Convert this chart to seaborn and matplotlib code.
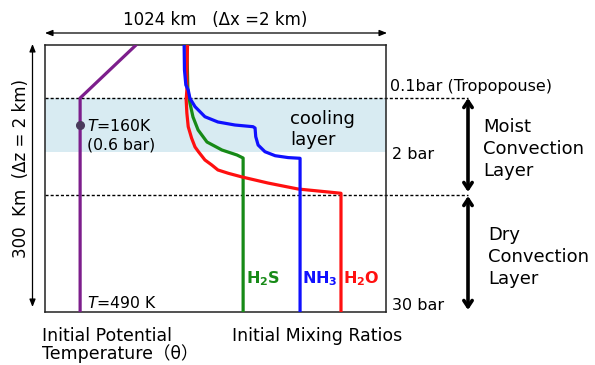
import matplotlib
matplotlib.use("Agg")
import matplotlib.pyplot as plt
import seaborn as sns
import pandas as pd

# --- profile data: x in relative profile units (0-100 across the domain box), z = altitude in km ---
theta_x = [26.7, 10.3, 10.3]
theta_z = [300.0, 240.4, 0.0]

h2s_x = [41.6, 41.9, 42.5, 43.4, 44.9, 47.5, 51.9, 56.3, 58.1, 58.1]
h2s_z = [300.0, 249.4, 234.8, 219.1, 204.5, 191.0, 182.0, 176.4, 173.0, 0.0]

h2o_x = [41.8, 41.6, 41.6, 41.4, 41.6, 42.0, 43.0, 44.0, 45.0, 46.9, 48.9, 50.7,
         53.8, 57.8, 65.4, 74.2, 82.1, 86.8, 86.8]
h2o_z = [300.0, 271.9, 249.4, 238.2, 223.6, 208.2, 195.2, 185.4, 180.1, 170.8, 165.2, 159.6,
         155.8, 151.7, 144.9, 138.2, 135.2, 133.4, 0.0]

nh3_x = [40.8, 40.9, 41.3, 42.0, 42.5, 44.0, 46.9, 50.7, 55.7, 61.0, 61.6, 61.8, 62.5, 64.5, 67.5, 71.3, 74.8, 74.8]
nh3_z = [300.0, 271.9, 255.1, 249.4, 240.1, 230.7, 219.4, 213.5, 210.1, 208.2, 206.7, 197.0, 187.6, 180.1, 175.6, 173.5, 172.7, 0.0]

series_names = ["theta", "H2S", "H2O", "NH3"]
series_colors = ["#7d1e8c", "#178a17", "#ff1010", "#1010ff"]

tropopause_z = 240.0      # 0.1 bar
cooling_bottom_z = 180.0  # 2 bar
moist_dry_z = 131.5       # moist / dry convection boundary
marker_z = 210.0          # T = 160 K (0.6 bar)

frames = []
for name, xs, zs in zip(series_names,
                        [theta_x, h2s_x, h2o_x, nh3_x],
                        [theta_z, h2s_z, h2o_z, nh3_z]):
    frames.append(pd.DataFrame({"x": xs, "z": zs, "series": name}))
df = pd.concat(frames, ignore_index=True)

sns.set_style("white")
plt.rcParams["font.family"] = ["DejaVu Sans", "Noto Sans CJK JP"]
plt.rcParams["mathtext.fontset"] = "dejavusans"
plt.rcParams["text.color"] = "black"

W, H = 595, 365
fig = plt.figure(figsize=(W / 100, H / 100), dpi=100)


def fpos(px, py):
    return px / W, 1 - py / H


# main profile box
ax = fig.add_axes([45 / W, (H - 312) / H, 341 / W, 267 / H])
ax.set_xlim(0, 100)
ax.set_ylim(0, 300)
ax.set_xticks([])
ax.set_yticks([])
for s in ax.spines.values():
    s.set_color("#222222")
    s.set_linewidth(1.1)

ax.axhspan(cooling_bottom_z, tropopause_z, color="#d8ebf2", lw=0, zorder=0)

sns.lineplot(data=df, x="x", y="z", hue="series", hue_order=series_names,
             palette=series_colors, sort=False, estimator=None,
             linewidth=2.3, legend=False, ax=ax, zorder=3,
             solid_joinstyle="round")
ax.set_xlabel("")
ax.set_ylabel("")

ax.plot([theta_x[1]], [marker_z], "o", color="#4a3a5c", markersize=5.5, zorder=5)

for zl in (tropopause_z, moist_dry_z):
    ax.plot([0, 124], [zl, zl], color="black", lw=1.0, ls=(0, (2.2, 1.5)),
            clip_on=False, zorder=2)

# overlay for arrows
ov = fig.add_axes([0, 0, 1, 1])
ov.set_xlim(0, W)
ov.set_ylim(H, 0)
ov.axis("off")

thin = dict(arrowstyle="<|-|>,head_length=0.45,head_width=0.18", lw=0.9,
            color="black", shrinkA=0, shrinkB=0)
ov.annotate("", xy=(45, 33), xytext=(387, 33), arrowprops=thin)
ov.annotate("", xy=(32.5, 44), xytext=(32.5, 307), arrowprops=thin)

thick = dict(arrowstyle="<->,head_length=0.45,head_width=0.3", lw=2.6,
             color="black", shrinkA=0, shrinkB=0)
ov.annotate("", xy=(468, 98), xytext=(468, 192), arrowprops=thick)
ov.annotate("", xy=(468, 196), xytext=(468, 310), arrowprops=thick)

# texts
def t(px, py, s, **kw):
    kw.setdefault("va", "baseline")
    kw.setdefault("ha", "left")
    fig.text(*fpos(px, py), s, **kw)


t(215, 25, "1024 km   (\u0394x =2 km)", ha="center", fontsize=12)
fig.text(*fpos(21, 169), "300  Km  (\u0394z = 2 km)", rotation=90,
         ha="center", va="center", fontsize=12)

t(87, 131, r"$T$=160K", fontsize=11.3)
t(87, 150, "(0.6 bar)", fontsize=11.3)
t(87, 308, r"$T$=490 K", fontsize=11.3)

t(290, 124, "cooling", fontsize=13)
t(290, 145, "layer", fontsize=13)

t(246, 283, r"$\mathbf{H_2S}$", fontsize=11.5, color=series_colors[1])
t(302, 283, r"$\mathbf{NH_3}$", fontsize=11.5, color=series_colors[3])
t(343, 283, r"$\mathbf{H_2O}$", fontsize=11.5, color=series_colors[2])

t(390, 91, "0.1bar (Tropopouse)", fontsize=11.5)
t(392, 159, "2 bar", fontsize=11.5)
t(392, 310, "30 bar", fontsize=11.5)

for py, s in zip([132, 154, 176], ["Moist", "Convection", "Layer"]):
    t(483, py, s, fontsize=13)
for py, s in zip([240, 262, 284], ["Dry", "Convection", "Layer"]):
    t(488, py, s, fontsize=13)

t(42, 341, "Initial Potential", fontsize=12.5)
t(42, 359, "Temperature\uff08\u03b8\uff09", fontsize=12.5)
t(232, 341, "Initial Mixing Ratios", fontsize=12.5)

fig.savefig("out.png", dpi=100, facecolor="white")
